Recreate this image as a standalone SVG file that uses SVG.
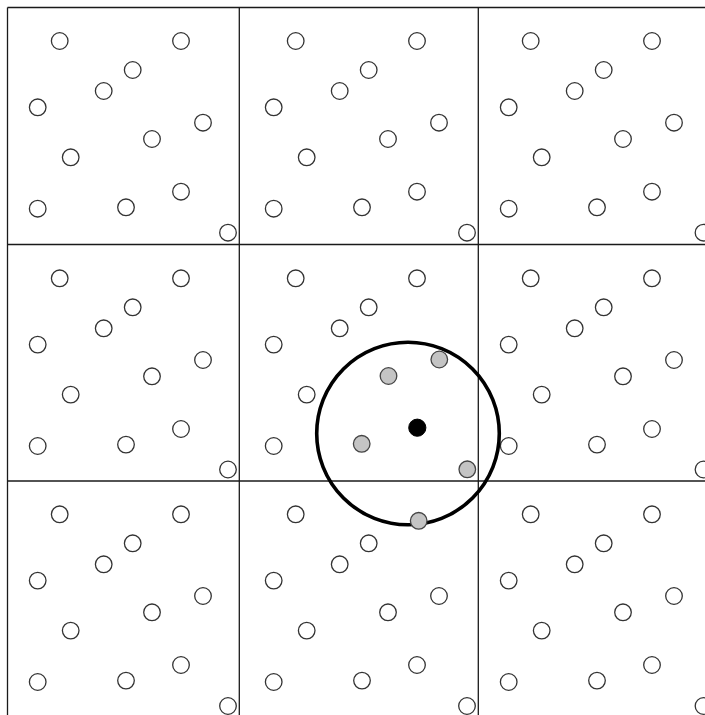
<svg xmlns="http://www.w3.org/2000/svg" xmlns:xlink="http://www.w3.org/1999/xlink" width="705" height="715" viewBox="0 0 705 715">
<style>
.w{fill:#fff;stroke:#333;stroke-width:1.3}
.g{fill:#c4c4c4;stroke:#444;stroke-width:1.3}
.k{fill:#000;stroke:#000;stroke-width:1}
.grid line{stroke:#1a1a1a;stroke-width:1.3}
.big{fill:none;stroke:#000;stroke-width:3.6}
</style>
<defs>
<circle id="c" r="8.3" class="w"/>
<g id="tile">
<use href="#c" x="59.7" y="41"/>
<use href="#c" x="181" y="41"/>
<use href="#c" x="132.7" y="70"/>
<use href="#c" x="103.7" y="91"/>
<use href="#c" x="37.7" y="107.3"/>
<use href="#c" x="203" y="122.7"/>
<use href="#c" x="152" y="139"/>
<use href="#c" x="70.7" y="157.3"/>
<use href="#c" x="181" y="191.7"/>
<use href="#c" x="37.7" y="208.7"/>
<use href="#c" x="126" y="207.3"/>
</g>
</defs>
<rect width="705" height="715" fill="#fff"/>
<g class="grid" id="grid">
<line x1="7.5" y1="7.5" x2="705" y2="7.5"/>
<line x1="7.5" y1="244.5" x2="705" y2="244.5"/>
<line x1="7.5" y1="481" x2="705" y2="481"/>
<line x1="7.5" y1="7.5" x2="7.5" y2="715"/>
<line x1="239.3" y1="7.5" x2="239.3" y2="715"/>
<line x1="478.3" y1="7.5" x2="478.3" y2="715"/>
</g>
<g id="cell-0-0"><use href="#tile"/><use href="#c" x="228" y="232.7"/></g>
<g id="cell-0-1"><use href="#tile" transform="translate(236,0)"/><use href="#c" x="467" y="232.7"/></g>
<g id="cell-0-2"><use href="#tile" transform="translate(471,0)"/><use href="#c" x="703.5" y="232.7"/></g>
<g id="cell-1-0"><use href="#tile" transform="translate(0,237.3)"/><use href="#c" x="228" y="469.5"/></g>
<g id="cell-1-2"><use href="#tile" transform="translate(471,237.3)"/><use href="#c" x="703.5" y="469.5"/></g>
<g id="cell-2-0"><use href="#tile" transform="translate(0,473.3)"/><use href="#c" x="228" y="706"/></g>
<g id="cell-2-2"><use href="#tile" transform="translate(471,473.3)"/><use href="#c" x="703.5" y="706"/></g>
<g id="cell-1-1" transform="translate(236,237.3)">
<use href="#c" x="59.7" y="41"/>
<use href="#c" x="181" y="41"/>
<use href="#c" x="132.7" y="70"/>
<use href="#c" x="103.7" y="91"/>
<use href="#c" x="37.7" y="107.3"/>
<use href="#c" x="70.7" y="157.3"/>
<use href="#c" x="37.7" y="208.7"/>
</g>
<g id="cell-2-1" transform="translate(236,473.3)">
<use href="#c" x="59.7" y="41"/>
<use href="#c" x="132.7" y="70"/>
<use href="#c" x="103.7" y="91"/>
<use href="#c" x="37.7" y="107.3"/>
<use href="#c" x="203" y="122.7"/>
<use href="#c" x="152" y="139"/>
<use href="#c" x="70.7" y="157.3"/>
<use href="#c" x="181" y="191.7"/>
<use href="#c" x="37.7" y="208.7"/>
<use href="#c" x="126" y="207.3"/>
<use href="#c" x="231" y="232.7"/>
</g>
<circle id="cutoff" class="big" cx="408" cy="433.5" r="91.3"/>
<g id="neighbours">
<circle class="g" cx="388.5" cy="376" r="8.3"/>
<circle class="g" cx="439.3" cy="359.5" r="8.3"/>
<circle class="g" cx="361.7" cy="443.8" r="8.3"/>
<circle class="g" cx="467.3" cy="469.3" r="8.3"/>
<circle class="g" cx="418.7" cy="520.8" r="8.3"/>
</g>
<g id="centre"><circle class="k" cx="417.3" cy="427.7" r="8.6"/></g>
</svg>
